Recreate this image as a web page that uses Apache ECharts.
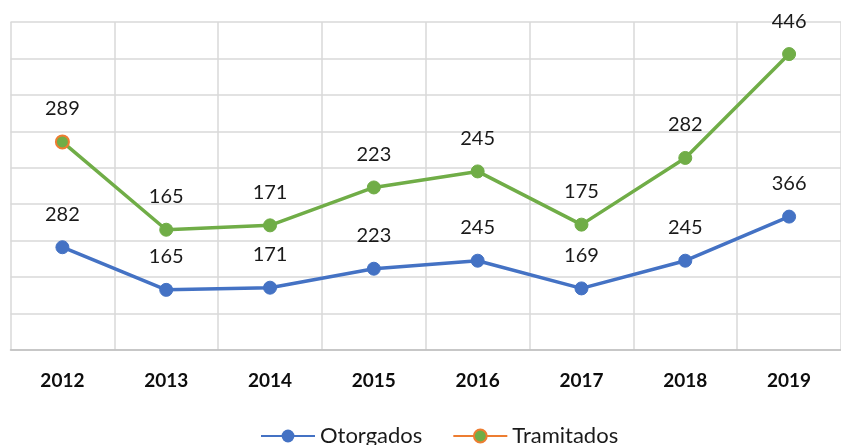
<!DOCTYPE html>
<html><head><meta charset="utf-8">
<script src="https://cdn.jsdelivr.net/npm/echarts@6/dist/echarts.min.js"></script>
<style>html,body{margin:0;padding:0;background:#fff}#c{width:841px;height:445px}</style>
</head><body><div id="c"></div>
<script>
const categories = ['2012','2013','2014','2015','2016','2017','2018','2019'];
const otorgados = [282,165,171,223,245,169,245,366];
const tramitados = [289,165,171,223,245,175,282,446];
const yTicks = [0,100,200,300,400,500,600,700,800,900];

const FONT = 'Lato, "Open Sans", sans-serif';
const chart = echarts.init(document.getElementById('c'), null, {renderer:'canvas'});
const labelCfg = {show:true, position:'top', distance:16, fontSize:20, color:'#1a1a1a', fontFamily:FONT};
chart.setOption({
  animation:false,
  backgroundColor:'#fff',
  grid:{left:10.5, right:-11, top:22, bottom:95, containLabel:false},
  xAxis:{type:'category', data:categories, boundaryGap:true,
    axisLine:{lineStyle:{color:'#BFBFBF', width:1.5}}, axisTick:{show:false},
    axisLabel:{fontSize:19, fontWeight:'bold', color:'#0d0d0d', margin:21, fontFamily:FONT},
    splitLine:{show:true, lineStyle:{color:'#D9D9D9', width:1.5}}},
  yAxis:{type:'value', min:yTicks[0], max:yTicks[yTicks.length-1], interval:100,
    axisLabel:{show:false}, axisLine:{show:false}, axisTick:{show:false},
    splitLine:{lineStyle:{color:'#D9D9D9', width:1.5}}},
  legend:{bottom:-7, left:255, itemWidth:54, itemHeight:16, itemGap:30,
    textStyle:{fontSize:22, color:'#1a1a1a', fontFamily:FONT},
    data:[
      {name:'Otorgados'},
      {name:'Tramitados', lineStyle:{color:'#ED7D31'}, itemStyle:{color:'#70AD47', borderColor:'#ED7D31', borderWidth:2}}
    ]},
  series:[
    {name:'Otorgados', type:'line', stack:'total', data:otorgados,
      symbol:'circle', symbolSize:13,
      lineStyle:{color:'#4472C4', width:3.5},
      itemStyle:{color:'#4472C4', borderColor:'#4472C4'},
      label:labelCfg},
    {name:'Tramitados', type:'line', stack:'total',
      data:tramitados.map((v,i)=> i===0 ? {value:v, itemStyle:{color:'#70AD47', borderColor:'#ED7D31', borderWidth:2}} : v),
      symbol:'circle', symbolSize:13,
      lineStyle:{color:'#70AD47', width:3.5},
      itemStyle:{color:'#70AD47', borderColor:'#70AD47'},
      label:labelCfg}
  ]
});
</script></body></html>
